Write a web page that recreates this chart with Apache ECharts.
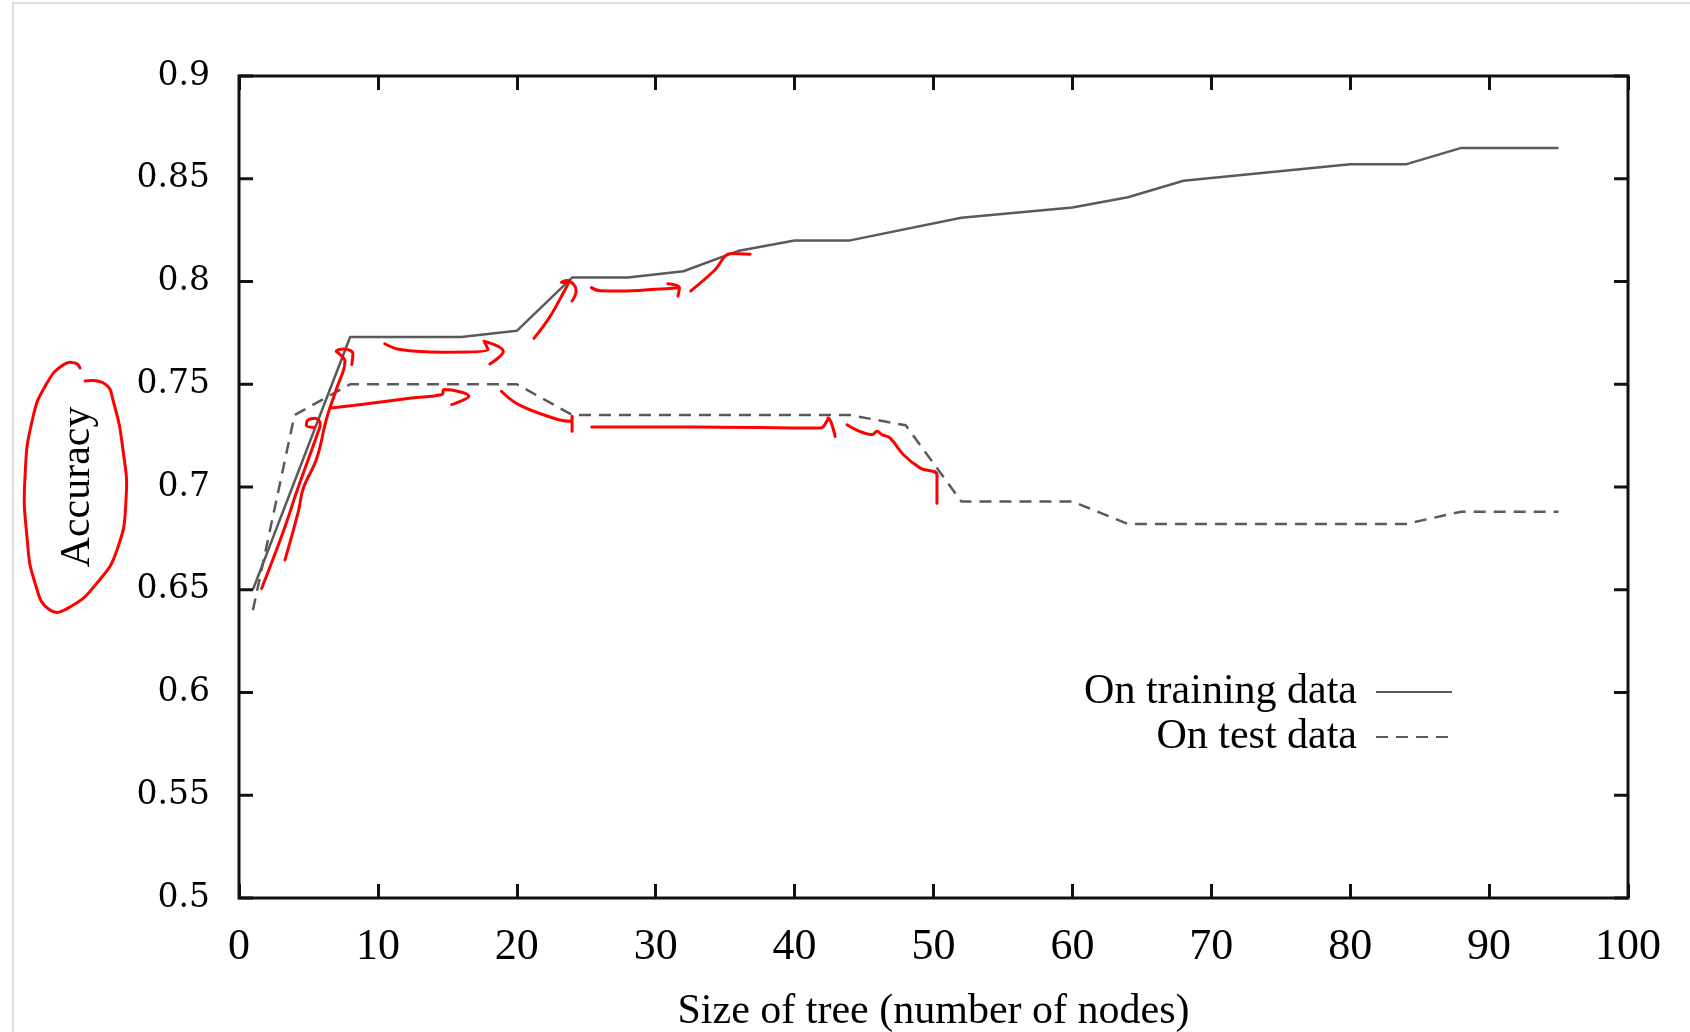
<!DOCTYPE html>
<html>
<head>
<meta charset="utf-8">
<title>Accuracy vs size of tree</title>
<script src="https://cdn.jsdelivr.net/npm/echarts@6/dist/echarts.min.js"></script>
<style>
  html, body { margin: 0; padding: 0; background: #fff; }
  #chart { width: 1690px; height: 1032px; }
</style>
</head>
<body>
<div id="chart"></div>
<script>
// [size of tree, accuracy]
const trainingData = [
  [1, 0.650], [8, 0.773], [16, 0.773], [20, 0.776], [24, 0.802], [28, 0.802],
  [32, 0.805], [36, 0.815], [40, 0.820], [44, 0.820], [52, 0.831], [60, 0.836],
  [64, 0.841], [68, 0.849], [80, 0.857], [84, 0.857], [88, 0.865], [95, 0.865]
]
const testData = [
  [1, 0.640], [4, 0.735], [8, 0.750], [20, 0.750], [24, 0.735], [44, 0.735],
  [48, 0.730], [52, 0.693], [60, 0.693], [64, 0.682], [84, 0.682], [88, 0.688],
  [95, 0.688]
]
const xTicks = { min: 0, max: 100, interval: 10 }
const yTicks = { min: 0.5, max: 0.9, interval: 0.05 }
const yTickValues = [0.5, 0.55, 0.6, 0.65, 0.7, 0.75, 0.8, 0.85, 0.9]

// red hand-drawn pen marks, in data units
const penStrokes = [
  [[1.63, 0.6506], [3.19, 0.6783], [4.16, 0.6978], [5.11, 0.7157], [5.71, 0.7271], [5.85, 0.7305], [5.5, 0.7335], [4.95, 0.7325], [4.85, 0.7300], [5.4, 0.7290]],
  [[3.31, 0.6645], [4.27, 0.6880], [4.63, 0.6994], [5.60, 0.7140], [6.32, 0.7336], [7.04, 0.7482], [7.63, 0.7612], [7.2, 0.7650], [7.0, 0.7660], [7.5, 0.7672], [8.0, 0.7665], [8.2, 0.7648], [8.12, 0.7596]],
  [[6.63, 0.7384], [9.65, 0.7409], [12.42, 0.7433], [14.62, 0.7450], [14.76, 0.7474], [16.55, 0.7441], [15.31, 0.7401]],
  [[10.49, 0.7697], [11.60, 0.7669], [14.62, 0.7656], [17.93, 0.7669], [17.64, 0.7710], [19.03, 0.7661], [18.06, 0.7599]],
  [[21.23, 0.7723], [22.33, 0.7823], [23.30, 0.7938], [23.72, 0.7994], [23.2, 0.7995], [23.6, 0.8005], [24.1, 0.7985], [24.27, 0.7954], [23.98, 0.7905]],
  [[25.37, 0.7970], [26.0, 0.7955], [27.57, 0.7954], [30.0, 0.7962], [31.7, 0.7970]],
  [[30.88, 0.7989], [31.7, 0.7970], [31.6, 0.7929]],
  [[32.53, 0.7954], [34.19, 0.8051], [35.43, 0.8136], [36.80, 0.8133]],
  [[18.89, 0.7466], [20.13, 0.7401], [22.61, 0.7336], [23.85, 0.7320], [23.98, 0.7344], [23.98, 0.7271]],
  [[25.40, 0.7292], [32.70, 0.7292], [41.84, 0.7287], [42.33, 0.7320], [42.42, 0.7336], [42.92, 0.7246]],
  [[43.77, 0.7303], [45.57, 0.7255], [45.93, 0.7271], [46.29, 0.7255], [46.88, 0.7238], [47.84, 0.7157], [49.05, 0.7092], [50.25, 0.7059], [50.25, 0.6921]]
]
// pen loop drawn round the y axis title (page pixels)
const titleLoop = [
  [80, 368], [75, 363], [63, 365], [47, 383], [33, 417], [25, 477], [27, 537], [35, 583],
  [50, 610], [70, 607], [97, 583], [117, 550], [126, 500], [123, 450], [113, 400], [105, 384], [85, 381]
]

const serif = '"Liberation Serif", "Times New Roman", serif'
const ink = '#111'
const lineGrey = '#5a5a5a'
const tickLen = 14

const chart = echarts.init(document.getElementById('chart'))

const xAxisBase = {
  type: 'value',
  axisLine: { show: false },
  axisTick: { show: true, inside: true, length: tickLen, lineStyle: { color: ink, width: 3 } },
  splitLine: { show: false }
}

const legendBase = {
  orient: 'vertical',
  align: 'right',
  right: 237,
  padding: 0,
  itemWidth: 76,
  itemHeight: 40,
  itemStyle: { opacity: 0 },
  textStyle: { fontFamily: serif, fontSize: 42, color: '#000', padding: [0, 14, 0, 0] }
}

const penSeries = penStrokes.map((stroke, i) => ({
  name: 'pen' + i,
  type: 'line',
  data: stroke,
  smooth: 0.4,
  symbol: 'none',
  silent: true,
  z: 5,
  lineStyle: { color: '#ff0000', width: 3, cap: 'round', join: 'round' }
}))

// y ticks on both sides pointing into the plot, placed through the axes
function renderYTick(params, api) {
  const left = api.coord([xTicks.min, api.value(1)])
  const right = api.coord([xTicks.max, api.value(1)])
  const style = { stroke: ink, lineWidth: 3 }
  return {
    type: 'group',
    children: [
      { type: 'line', shape: { x1: left[0], y1: left[1], x2: left[0] + tickLen, y2: left[1] }, style: style },
      { type: 'line', shape: { x1: right[0] - tickLen, y1: right[1], x2: right[0], y2: right[1] }, style: style }
    ]
  }
}

chart.setOption({
  animation: false,
  backgroundColor: '#fff',
  grid: {
    left: 239, right: 62, top: 76, bottom: 134,
    show: true,
    backgroundColor: 'transparent',
    borderColor: ink,
    borderWidth: 3,
    outerBoundsMode: 'none'
  },
  legend: [
    Object.assign({}, legendBase, { top: 671, data: ['On training data'] }),
    Object.assign({}, legendBase, { top: 716, data: ['On test data'] })
  ],
  xAxis: [
    Object.assign({}, xAxisBase, xTicks, {
      position: 'bottom',
      name: 'Size of tree (number of nodes)',
      nameLocation: 'middle',
      nameGap: 93,
      nameTextStyle: { fontFamily: serif, fontSize: 42, color: '#000' },
      axisLabel: { margin: 27, fontFamily: serif, fontSize: 44, color: '#000' }
    }),
    Object.assign({}, xAxisBase, xTicks, { position: 'top', axisLabel: { show: false } })
  ],
  yAxis: Object.assign({
    type: 'value',
    position: 'left',
    axisLine: { show: false },
    axisTick: { show: false },
    splitLine: { show: false },
    name: 'Accuracy',
    nameLocation: 'middle',
    nameGap: 140,
    nameTextStyle: { fontFamily: serif, fontSize: 42, color: '#000' },
    axisLabel: {
      margin: 29,
      fontFamily: '"DejaVu Serif", serif',
      fontSize: 33,
      color: '#000',
      formatter: v => String(Math.round(v * 100) / 100)
    }
  }, yTicks),
  graphic: [
    {
      type: 'rect',
      shape: { x: 13, y: 3, width: 1700, height: 1100 },
      style: { fill: 'none', stroke: '#d4d4d4', lineWidth: 1.5 },
      silent: true
    },
    {
      type: 'polyline',
      shape: { points: titleLoop, smooth: 0.5 },
      style: { fill: 'none', stroke: '#ff0000', lineWidth: 3, lineCap: 'round' },
      silent: true
    }
  ],
  series: [
    {
      name: 'yTicks',
      type: 'custom',
      silent: true,
      z: 4,
      data: yTickValues.map(v => [xTicks.min, v]),
      renderItem: renderYTick
    },
    {
      name: 'On training data',
      type: 'line',
      data: trainingData,
      symbol: 'none',
      z: 3,
      itemStyle: { color: lineGrey },
      lineStyle: { color: lineGrey, width: 2.5 }
    },
    {
      name: 'On test data',
      type: 'line',
      data: testData,
      symbol: 'none',
      z: 3,
      itemStyle: { color: lineGrey },
      lineStyle: { color: lineGrey, width: 2.5, type: [12, 8] }
    }
  ].concat(penSeries)
})

window.addEventListener('resize', () => chart.resize())
</script>
</body>
</html>
